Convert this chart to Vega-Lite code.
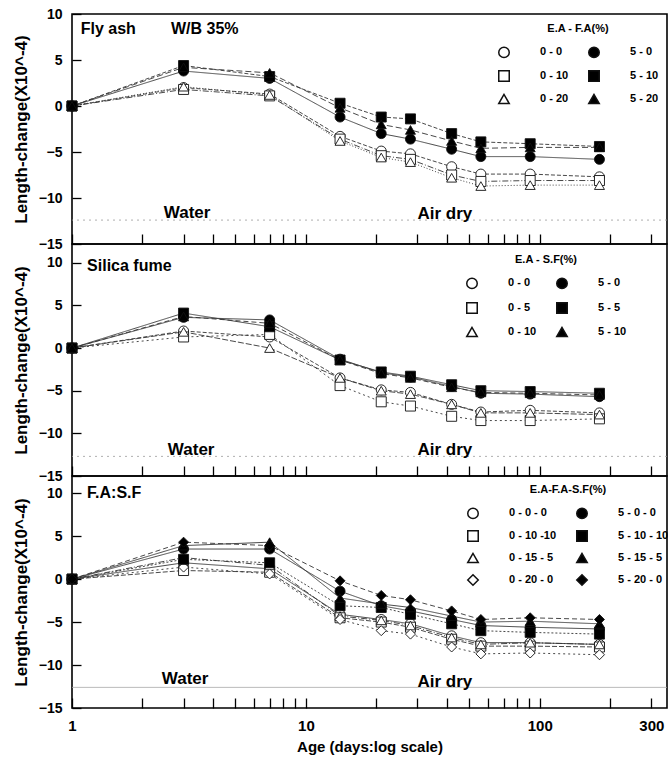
{
  "$schema": "https://vega.github.io/schema/vega-lite/v6.json",
  "padding": {"left": 11, "top": 6, "right": 4, "bottom": 4},
  "background": "white",
  "config": {
    "font": "Liberation Sans",
    "view": {"stroke": "black", "strokeWidth": 1.6},
    "axis": {
      "labelFont": "Liberation Sans", "labelFontWeight": "bold", "labelColor": "black",
      "titleFont": "Liberation Sans", "titleFontWeight": "bold", "titleColor": "black",
      "tickColor": "black", "tickWidth": 1.3, "domain": false, "grid": false,
      "labelOverlap": false, "labelFlush": false
    },
    "legend": {
      "labelFont": "Liberation Sans", "labelFontWeight": "bold", "labelFontSize": 11, "labelColor": "black",
      "titleFont": "Liberation Sans", "titleFontWeight": "bold", "titleFontSize": 11, "titleColor": "black",
      "titleAnchor": "middle", "titlePadding": 12,
      "symbolSize": 110, "columnPadding": 16, "labelOffset": 30
    },
    "text": {"font": "Liberation Sans", "fontWeight": "bold", "color": "black"}
  },
  "datasets": {
    "flyash": [
      {"age":1,"mix":"0 - 0","val":0},{"age":3,"mix":"0 - 0","val":2.0},{"age":7,"mix":"0 - 0","val":1.3},{"age":14,"mix":"0 - 0","val":-3.3},{"age":21,"mix":"0 - 0","val":-4.9},{"age":28,"mix":"0 - 0","val":-5.2},{"age":42,"mix":"0 - 0","val":-6.6},{"age":56,"mix":"0 - 0","val":-7.4},{"age":91,"mix":"0 - 0","val":-7.4},{"age":180,"mix":"0 - 0","val":-7.7},
      {"age":1,"mix":"0 - 10","val":0},{"age":3,"mix":"0 - 10","val":1.8},{"age":7,"mix":"0 - 10","val":1.1},{"age":14,"mix":"0 - 10","val":-3.6},{"age":21,"mix":"0 - 10","val":-5.4},{"age":28,"mix":"0 - 10","val":-5.8},{"age":42,"mix":"0 - 10","val":-7.5},{"age":56,"mix":"0 - 10","val":-8.2},{"age":91,"mix":"0 - 10","val":-8.1},{"age":180,"mix":"0 - 10","val":-8.1},
      {"age":1,"mix":"0 - 20","val":0},{"age":3,"mix":"0 - 20","val":2.1},{"age":7,"mix":"0 - 20","val":1.2},{"age":14,"mix":"0 - 20","val":-3.8},{"age":21,"mix":"0 - 20","val":-5.6},{"age":28,"mix":"0 - 20","val":-6.1},{"age":42,"mix":"0 - 20","val":-7.8},{"age":56,"mix":"0 - 20","val":-8.7},{"age":91,"mix":"0 - 20","val":-8.6},{"age":180,"mix":"0 - 20","val":-8.6},
      {"age":1,"mix":"5 - 0","val":0},{"age":3,"mix":"5 - 0","val":3.8},{"age":7,"mix":"5 - 0","val":3.0},{"age":14,"mix":"5 - 0","val":-1.2},{"age":21,"mix":"5 - 0","val":-3.0},{"age":28,"mix":"5 - 0","val":-3.6},{"age":42,"mix":"5 - 0","val":-4.7},{"age":56,"mix":"5 - 0","val":-5.5},{"age":91,"mix":"5 - 0","val":-5.5},{"age":180,"mix":"5 - 0","val":-5.8},
      {"age":1,"mix":"5 - 10","val":0},{"age":3,"mix":"5 - 10","val":4.4},{"age":7,"mix":"5 - 10","val":3.2},{"age":14,"mix":"5 - 10","val":0.3},{"age":21,"mix":"5 - 10","val":-1.2},{"age":28,"mix":"5 - 10","val":-1.4},{"age":42,"mix":"5 - 10","val":-3.0},{"age":56,"mix":"5 - 10","val":-3.9},{"age":91,"mix":"5 - 10","val":-4.1},{"age":180,"mix":"5 - 10","val":-4.4},
      {"age":1,"mix":"5 - 20","val":0},{"age":3,"mix":"5 - 20","val":4.2},{"age":7,"mix":"5 - 20","val":3.6},{"age":14,"mix":"5 - 20","val":-0.2},{"age":21,"mix":"5 - 20","val":-2.0},{"age":28,"mix":"5 - 20","val":-2.6},{"age":42,"mix":"5 - 20","val":-3.8},{"age":56,"mix":"5 - 20","val":-4.6},{"age":91,"mix":"5 - 20","val":-4.5},{"age":180,"mix":"5 - 20","val":-4.5}
    ],
    "silica": [
      {"age":1,"mix":"0 - 0","val":0},{"age":3,"mix":"0 - 0","val":2.0},{"age":7,"mix":"0 - 0","val":1.3},{"age":14,"mix":"0 - 0","val":-3.5},{"age":21,"mix":"0 - 0","val":-4.9},{"age":28,"mix":"0 - 0","val":-5.2},{"age":42,"mix":"0 - 0","val":-6.6},{"age":56,"mix":"0 - 0","val":-7.5},{"age":91,"mix":"0 - 0","val":-7.3},{"age":180,"mix":"0 - 0","val":-7.6},
      {"age":1,"mix":"0 - 5","val":0},{"age":3,"mix":"0 - 5","val":1.3},{"age":7,"mix":"0 - 5","val":1.6},{"age":14,"mix":"0 - 5","val":-4.4},{"age":21,"mix":"0 - 5","val":-6.3},{"age":28,"mix":"0 - 5","val":-6.8},{"age":42,"mix":"0 - 5","val":-8.0},{"age":56,"mix":"0 - 5","val":-8.5},{"age":91,"mix":"0 - 5","val":-8.5},{"age":180,"mix":"0 - 5","val":-8.3},
      {"age":1,"mix":"0 - 10","val":0},{"age":3,"mix":"0 - 10","val":1.9},{"age":7,"mix":"0 - 10","val":0.0},{"age":14,"mix":"0 - 10","val":-3.5},{"age":21,"mix":"0 - 10","val":-5.0},{"age":28,"mix":"0 - 10","val":-5.4},{"age":42,"mix":"0 - 10","val":-6.6},{"age":56,"mix":"0 - 10","val":-7.6},{"age":91,"mix":"0 - 10","val":-7.6},{"age":180,"mix":"0 - 10","val":-7.8},
      {"age":1,"mix":"5 - 0","val":0},{"age":3,"mix":"5 - 0","val":3.6},{"age":7,"mix":"5 - 0","val":3.3},{"age":14,"mix":"5 - 0","val":-1.3},{"age":21,"mix":"5 - 0","val":-2.9},{"age":28,"mix":"5 - 0","val":-3.4},{"age":42,"mix":"5 - 0","val":-4.5},{"age":56,"mix":"5 - 0","val":-5.3},{"age":91,"mix":"5 - 0","val":-5.4},{"age":180,"mix":"5 - 0","val":-5.7},
      {"age":1,"mix":"5 - 5","val":0},{"age":3,"mix":"5 - 5","val":4.1},{"age":7,"mix":"5 - 5","val":2.5},{"age":14,"mix":"5 - 5","val":-1.4},{"age":21,"mix":"5 - 5","val":-2.8},{"age":28,"mix":"5 - 5","val":-3.3},{"age":42,"mix":"5 - 5","val":-4.3},{"age":56,"mix":"5 - 5","val":-5.0},{"age":91,"mix":"5 - 5","val":-5.1},{"age":180,"mix":"5 - 5","val":-5.3},
      {"age":1,"mix":"5 - 10","val":0},{"age":3,"mix":"5 - 10","val":3.7},{"age":7,"mix":"5 - 10","val":2.9},{"age":14,"mix":"5 - 10","val":-1.4},{"age":21,"mix":"5 - 10","val":-3.0},{"age":28,"mix":"5 - 10","val":-3.5},{"age":42,"mix":"5 - 10","val":-4.6},{"age":56,"mix":"5 - 10","val":-5.2},{"age":91,"mix":"5 - 10","val":-5.3},{"age":180,"mix":"5 - 10","val":-5.5}
    ],
    "fasf": [
      {"age":1,"mix":"0 - 0 - 0","val":0},{"age":3,"mix":"0 - 0 - 0","val":1.9},{"age":7,"mix":"0 - 0 - 0","val":1.2},{"age":14,"mix":"0 - 0 - 0","val":-4.1},{"age":21,"mix":"0 - 0 - 0","val":-4.7},{"age":28,"mix":"0 - 0 - 0","val":-5.2},{"age":42,"mix":"0 - 0 - 0","val":-6.6},{"age":56,"mix":"0 - 0 - 0","val":-7.4},{"age":91,"mix":"0 - 0 - 0","val":-7.4},{"age":180,"mix":"0 - 0 - 0","val":-7.6},
      {"age":1,"mix":"0 - 10 -10","val":0},{"age":3,"mix":"0 - 10 -10","val":1.0},{"age":7,"mix":"0 - 10 -10","val":0.8},{"age":14,"mix":"0 - 10 -10","val":-4.5},{"age":21,"mix":"0 - 10 -10","val":-5.0},{"age":28,"mix":"0 - 10 -10","val":-5.6},{"age":42,"mix":"0 - 10 -10","val":-7.0},{"age":56,"mix":"0 - 10 -10","val":-7.8},{"age":91,"mix":"0 - 10 -10","val":-7.8},{"age":180,"mix":"0 - 10 -10","val":-7.9},
      {"age":1,"mix":"0 - 15 - 5","val":0},{"age":3,"mix":"0 - 15 - 5","val":2.5},{"age":7,"mix":"0 - 15 - 5","val":1.6},{"age":14,"mix":"0 - 15 - 5","val":-4.3},{"age":21,"mix":"0 - 15 - 5","val":-4.8},{"age":28,"mix":"0 - 15 - 5","val":-5.4},{"age":42,"mix":"0 - 15 - 5","val":-6.8},{"age":56,"mix":"0 - 15 - 5","val":-7.6},{"age":91,"mix":"0 - 15 - 5","val":-7.4},{"age":180,"mix":"0 - 15 - 5","val":-7.6},
      {"age":1,"mix":"0 - 20 - 0","val":0},{"age":3,"mix":"0 - 20 - 0","val":1.4},{"age":7,"mix":"0 - 20 - 0","val":0.6},{"age":14,"mix":"0 - 20 - 0","val":-4.7},{"age":21,"mix":"0 - 20 - 0","val":-6.0},{"age":28,"mix":"0 - 20 - 0","val":-6.4},{"age":42,"mix":"0 - 20 - 0","val":-7.9},{"age":56,"mix":"0 - 20 - 0","val":-8.7},{"age":91,"mix":"0 - 20 - 0","val":-8.6},{"age":180,"mix":"0 - 20 - 0","val":-8.8},
      {"age":1,"mix":"5 - 0 - 0","val":0},{"age":3,"mix":"5 - 0 - 0","val":3.5},{"age":7,"mix":"5 - 0 - 0","val":3.5},{"age":14,"mix":"5 - 0 - 0","val":-1.4},{"age":21,"mix":"5 - 0 - 0","val":-3.1},{"age":28,"mix":"5 - 0 - 0","val":-3.7},{"age":42,"mix":"5 - 0 - 0","val":-4.7},{"age":56,"mix":"5 - 0 - 0","val":-5.4},{"age":91,"mix":"5 - 0 - 0","val":-5.6},{"age":180,"mix":"5 - 0 - 0","val":-5.8},
      {"age":1,"mix":"5 - 10 - 10","val":0},{"age":3,"mix":"5 - 10 - 10","val":2.3},{"age":7,"mix":"5 - 10 - 10","val":1.9},{"age":14,"mix":"5 - 10 - 10","val":-3.1},{"age":21,"mix":"5 - 10 - 10","val":-3.3},{"age":28,"mix":"5 - 10 - 10","val":-4.1},{"age":42,"mix":"5 - 10 - 10","val":-5.2},{"age":56,"mix":"5 - 10 - 10","val":-6.0},{"age":91,"mix":"5 - 10 - 10","val":-6.2},{"age":180,"mix":"5 - 10 - 10","val":-6.4},
      {"age":1,"mix":"5 - 15 - 5","val":0},{"age":3,"mix":"5 - 15 - 5","val":3.9},{"age":7,"mix":"5 - 15 - 5","val":4.3},{"age":14,"mix":"5 - 15 - 5","val":-2.2},{"age":21,"mix":"5 - 15 - 5","val":-2.9},{"age":28,"mix":"5 - 15 - 5","val":-3.3},{"age":42,"mix":"5 - 15 - 5","val":-4.3},{"age":56,"mix":"5 - 15 - 5","val":-5.0},{"age":91,"mix":"5 - 15 - 5","val":-4.9},{"age":180,"mix":"5 - 15 - 5","val":-5.2},
      {"age":1,"mix":"5 - 20 - 0","val":0},{"age":3,"mix":"5 - 20 - 0","val":4.3},{"age":7,"mix":"5 - 20 - 0","val":3.9},{"age":14,"mix":"5 - 20 - 0","val":-0.2},{"age":21,"mix":"5 - 20 - 0","val":-1.9},{"age":28,"mix":"5 - 20 - 0","val":-2.4},{"age":42,"mix":"5 - 20 - 0","val":-3.7},{"age":56,"mix":"5 - 20 - 0","val":-4.7},{"age":91,"mix":"5 - 20 - 0","val":-4.5},{"age":180,"mix":"5 - 20 - 0","val":-4.7}
    ],
    "notes": [
      {"panel":"fa","kind":"head","age":1.09,"val":8.4,"label":"Fly ash"},
      {"panel":"fa","kind":"head","age":2.65,"val":8.4,"label":"W/B 35%"},
      {"panel":"fa","kind":"zone","age":2.47,"val":-11.6,"label":"Water"},
      {"panel":"fa","kind":"zone","age":30,"val":-11.7,"label":"Air dry"},
      {"panel":"sf","kind":"head","age":1.16,"val":9.6,"label":"Silica fume"},
      {"panel":"sf","kind":"zone","age":2.57,"val":-12.0,"label":"Water"},
      {"panel":"sf","kind":"zone","age":30,"val":-12.0,"label":"Air dry"},
      {"panel":"fs","kind":"head","age":1.16,"val":10.0,"label":"F.A:S.F"},
      {"panel":"fs","kind":"zone","age":2.42,"val":-11.6,"label":"Water"},
      {"panel":"fs","kind":"zone","age":30,"val":-12.0,"label":"Air dry"}
    ],
    "guides": [
      {"panel":"fa","val":-12.4},
      {"panel":"sf","val":-12.7},
      {"panel":"fs","val":-12.6}
    ]
  },
  "spacing": 0,
  "bounds": "flush",
  "resolve": {
    "scale": {"x": "independent", "y": "independent", "shape": "independent", "fill": "independent", "strokeDash": "independent"},
    "legend": {"shape": "independent", "fill": "independent"}
  },
  "vconcat": [
    {
      "width": 595,
      "height": 230,
      "layer": [
        {
          "data": {"name": "guides"},
          "transform": [{"filter": "datum.panel == 'fa'"}],
          "mark": {"type": "rule", "stroke": "#9a9a9a", "strokeWidth": 0.8, "strokeDash": [2, 4]},
          "encoding": {"y": {"field": "val", "type": "quantitative"}}
        },
        {
          "data": {"name": "flyash"},
          "mark": {"type": "line", "stroke": "#333", "strokeWidth": 0.9},
          "encoding": {
            "x": {
              "field": "age", "type": "quantitative",
              "scale": {"type": "log", "domain": [1, 350], "nice": false},
              "axis": {"title": null, "labels": false, "tickSize": -10,
                       "values": [1,2,3,4,5,6,7,8,9,10,20,30,40,50,60,70,80,90,100,200,300]}
            },
            "y": {
              "field": "val", "type": "quantitative",
              "scale": {"domain": [-15, 10], "nice": false},
              "axis": {"title": "Length-change(X10^-4)", "titleFontSize": 17, "titlePadding": 8,
                       "labelFontSize": 14, "tickSize": -9, "labelPadding": 19,
                       "values": [-15, -10, -5, 0, 5, 10]}
            },
            "strokeDash": {
              "field": "mix", "type": "nominal", "legend": null,
              "scale": {"domain": ["5 - 20", "0 - 20", "5 - 10", "0 - 10", "5 - 0", "0 - 0"],
                        "range": [[6, 3], [1, 2], [4, 2], [6, 2, 1, 2], [1, 0], [4, 2]]}
            }
          }
        },
        {
          "data": {"name": "flyash"},
          "mark": {"type": "point", "filled": true, "size": 100, "stroke": "#111", "strokeWidth": 0.9, "opacity": 1},
          "encoding": {
            "x": {"field": "age", "type": "quantitative"},
            "y": {"field": "val", "type": "quantitative"},
            "shape": {
              "field": "mix", "type": "nominal", "title": "E.A - F.A(%)",
              "scale": {"domain": ["0 - 0", "0 - 10", "0 - 20", "5 - 0", "5 - 10", "5 - 20"],
                        "range": ["circle", "square", "triangle-up", "circle", "square", "triangle-up"]},
              "legend": {"orient": "none", "legendX": 426, "legendY": 9, "columns": 2, "rowPadding": 6,
                         "encode": {"symbols": {"update": {"stroke": {"value": "black"}, "strokeWidth": {"value": 0.9}}}}}
            },
            "fill": {
              "field": "mix", "type": "nominal", "title": "E.A - F.A(%)",
              "scale": {"domain": ["0 - 0", "0 - 10", "0 - 20", "5 - 0", "5 - 10", "5 - 20"],
                        "range": ["white", "white", "white", "black", "black", "black"]},
              "legend": {"orient": "none", "legendX": 426, "legendY": 9, "columns": 2, "rowPadding": 6,
                         "encode": {"symbols": {"update": {"stroke": {"value": "black"}, "strokeWidth": {"value": 0.9}}}}}
            }
          }
        },
        {
          "data": {"name": "notes"},
          "transform": [{"filter": "datum.panel == 'fa' && datum.kind == 'head'"}],
          "mark": {"type": "text", "align": "left", "baseline": "middle", "fontSize": 16},
          "encoding": {
            "x": {"field": "age", "type": "quantitative"},
            "y": {"field": "val", "type": "quantitative"},
            "text": {"field": "label"}
          }
        },
        {
          "data": {"name": "notes"},
          "transform": [{"filter": "datum.panel == 'fa' && datum.kind == 'zone'"}],
          "mark": {"type": "text", "align": "left", "baseline": "middle", "fontSize": 17},
          "encoding": {
            "x": {"field": "age", "type": "quantitative"},
            "y": {"field": "val", "type": "quantitative"},
            "text": {"field": "label"}
          }
        }
      ]
    },
    {
      "width": 595,
      "height": 232,
      "layer": [
        {
          "data": {"name": "guides"},
          "transform": [{"filter": "datum.panel == 'sf'"}],
          "mark": {"type": "rule", "stroke": "#9a9a9a", "strokeWidth": 0.8, "strokeDash": [2, 4]},
          "encoding": {"y": {"field": "val", "type": "quantitative"}}
        },
        {
          "data": {"name": "silica"},
          "mark": {"type": "line", "stroke": "#333", "strokeWidth": 0.9},
          "encoding": {
            "x": {
              "field": "age", "type": "quantitative",
              "scale": {"type": "log", "domain": [1, 350], "nice": false},
              "axis": {"title": null, "labels": false, "tickSize": -10,
                       "values": [1,2,3,4,5,6,7,8,9,10,20,30,40,50,60,70,80,90,100,200,300]}
            },
            "y": {
              "field": "val", "type": "quantitative",
              "scale": {"domain": [-15, 12.2], "nice": false},
              "axis": {"title": "Length-change(X10^-4)", "titleFontSize": 17, "titlePadding": 8,
                       "labelFontSize": 14, "tickSize": -9, "labelPadding": 19,
                       "values": [-15, -10, -5, 0, 5, 10]}
            },
            "strokeDash": {
              "field": "mix", "type": "nominal", "legend": null,
              "scale": {"domain": ["5 - 10", "0 - 10", "5 - 5", "0 - 5", "5 - 0", "0 - 0"],
                        "range": [[5, 3], [6, 2], [1, 0], [2, 3], [1, 0], [4, 2]]}
            }
          }
        },
        {
          "data": {"name": "silica"},
          "mark": {"type": "point", "filled": true, "size": 100, "stroke": "#111", "strokeWidth": 0.9, "opacity": 1},
          "encoding": {
            "x": {"field": "age", "type": "quantitative"},
            "y": {"field": "val", "type": "quantitative"},
            "shape": {
              "field": "mix", "type": "nominal", "title": "E.A - S.F(%)",
              "scale": {"domain": ["0 - 0", "0 - 5", "0 - 10", "5 - 0", "5 - 5", "5 - 10"],
                        "range": ["circle", "square", "triangle-up", "circle", "square", "triangle-up"]},
              "legend": {"orient": "none", "legendX": 394, "legendY": 10, "columns": 2, "rowPadding": 7,
                         "encode": {"symbols": {"update": {"stroke": {"value": "black"}, "strokeWidth": {"value": 0.9}}}}}
            },
            "fill": {
              "field": "mix", "type": "nominal", "title": "E.A - S.F(%)",
              "scale": {"domain": ["0 - 0", "0 - 5", "0 - 10", "5 - 0", "5 - 5", "5 - 10"],
                        "range": ["white", "white", "white", "black", "black", "black"]},
              "legend": {"orient": "none", "legendX": 394, "legendY": 10, "columns": 2, "rowPadding": 7,
                         "encode": {"symbols": {"update": {"stroke": {"value": "black"}, "strokeWidth": {"value": 0.9}}}}}
            }
          }
        },
        {
          "data": {"name": "notes"},
          "transform": [{"filter": "datum.panel == 'sf' && datum.kind == 'head'"}],
          "mark": {"type": "text", "align": "left", "baseline": "middle", "fontSize": 16},
          "encoding": {
            "x": {"field": "age", "type": "quantitative"},
            "y": {"field": "val", "type": "quantitative"},
            "text": {"field": "label"}
          }
        },
        {
          "data": {"name": "notes"},
          "transform": [{"filter": "datum.panel == 'sf' && datum.kind == 'zone'"}],
          "mark": {"type": "text", "align": "left", "baseline": "middle", "fontSize": 17},
          "encoding": {
            "x": {"field": "age", "type": "quantitative"},
            "y": {"field": "val", "type": "quantitative"},
            "text": {"field": "label"}
          }
        }
      ]
    },
    {
      "width": 595,
      "height": 232,
      "layer": [
        {
          "data": {"name": "guides"},
          "transform": [{"filter": "datum.panel == 'fs'"}],
          "mark": {"type": "rule", "stroke": "#aaaaaa", "strokeWidth": 0.8},
          "encoding": {"y": {"field": "val", "type": "quantitative"}}
        },
        {
          "data": {"name": "fasf"},
          "mark": {"type": "line", "stroke": "#333", "strokeWidth": 0.9},
          "encoding": {
            "x": {
              "field": "age", "type": "quantitative",
              "scale": {"type": "log", "domain": [1, 350], "nice": false},
              "axis": {"title": "Age (days:log scale)", "titleFontSize": 15, "titlePadding": 6,
                       "labelFontSize": 15, "tickSize": -10, "labelPadding": 20, "format": "d",
                       "labelExpr": "indexof([1, 10, 100, 300], datum.value) >= 0 ? datum.label : ''",
                       "values": [1,2,3,4,5,6,7,8,9,10,20,30,40,50,60,70,80,90,100,200,300]}
            },
            "y": {
              "field": "val", "type": "quantitative",
              "scale": {"domain": [-15, 12], "nice": false},
              "axis": {"title": "Length-change(X10^-4)", "titleFontSize": 17, "titlePadding": 8,
                       "labelFontSize": 14, "tickSize": -9, "labelPadding": 19,
                       "values": [-15, -10, -5, 0, 5, 10]}
            },
            "strokeDash": {
              "field": "mix", "type": "nominal", "legend": null,
              "scale": {"domain": ["5 - 20 - 0", "0 - 20 - 0", "5 - 15 - 5", "0 - 15 - 5", "5 - 10 - 10", "0 - 10 -10", "5 - 0 - 0", "0 - 0 - 0"],
                        "range": [[5, 3], [2, 3], [1, 0], [6, 2, 1, 2], [2, 2], [5, 2], [1, 0], [1, 0]]}
            }
          }
        },
        {
          "data": {"name": "fasf"},
          "mark": {"type": "point", "filled": true, "size": 100, "stroke": "#111", "strokeWidth": 0.9, "opacity": 1},
          "encoding": {
            "x": {"field": "age", "type": "quantitative"},
            "y": {"field": "val", "type": "quantitative"},
            "shape": {
              "field": "mix", "type": "nominal", "title": "E.A-F.A-S.F(%)",
              "scale": {"domain": ["0 - 0 - 0", "0 - 10 -10", "0 - 15 - 5", "0 - 20 - 0", "5 - 0 - 0", "5 - 10 - 10", "5 - 15 - 5", "5 - 20 - 0"],
                        "range": ["circle", "square", "triangle-up", "diamond", "circle", "square", "triangle-up", "diamond"]},
              "legend": {"orient": "none", "legendX": 395, "legendY": 8, "columns": 2, "rowPadding": 5,
                         "encode": {"symbols": {"update": {"stroke": {"value": "black"}, "strokeWidth": {"value": 0.9}}}}}
            },
            "fill": {
              "field": "mix", "type": "nominal", "title": "E.A-F.A-S.F(%)",
              "scale": {"domain": ["0 - 0 - 0", "0 - 10 -10", "0 - 15 - 5", "0 - 20 - 0", "5 - 0 - 0", "5 - 10 - 10", "5 - 15 - 5", "5 - 20 - 0"],
                        "range": ["white", "white", "white", "white", "black", "black", "black", "black"]},
              "legend": {"orient": "none", "legendX": 395, "legendY": 8, "columns": 2, "rowPadding": 5,
                         "encode": {"symbols": {"update": {"stroke": {"value": "black"}, "strokeWidth": {"value": 0.9}}}}}
            }
          }
        },
        {
          "data": {"name": "notes"},
          "transform": [{"filter": "datum.panel == 'fs' && datum.kind == 'head'"}],
          "mark": {"type": "text", "align": "left", "baseline": "middle", "fontSize": 16},
          "encoding": {
            "x": {"field": "age", "type": "quantitative"},
            "y": {"field": "val", "type": "quantitative"},
            "text": {"field": "label"}
          }
        },
        {
          "data": {"name": "notes"},
          "transform": [{"filter": "datum.panel == 'fs' && datum.kind == 'zone'"}],
          "mark": {"type": "text", "align": "left", "baseline": "middle", "fontSize": 17},
          "encoding": {
            "x": {"field": "age", "type": "quantitative"},
            "y": {"field": "val", "type": "quantitative"},
            "text": {"field": "label"}
          }
        }
      ]
    }
  ]
}
